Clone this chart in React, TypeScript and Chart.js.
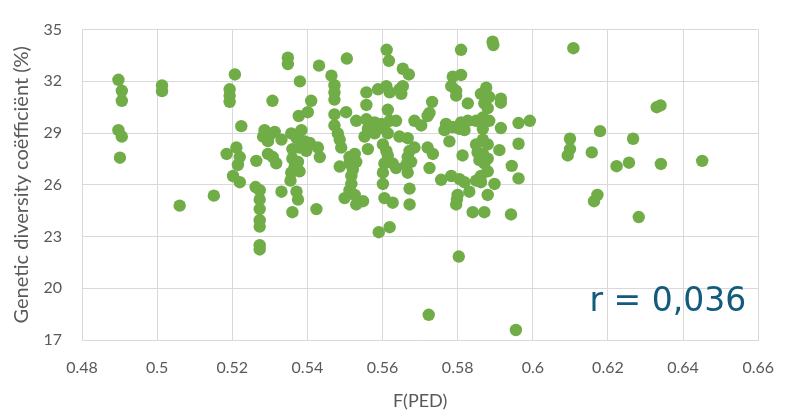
import { useEffect, useRef } from "react";
import { Chart, registerables } from "chart.js";

Chart.register(...registerables);

const fPED = [
  0.4897, 0.4906, 0.4906, 0.4897, 0.4906, 0.4901, 0.5013, 0.5013, 0.506, 0.5151,
  0.5348, 0.5348, 0.5207, 0.5193, 0.5193, 0.5193, 0.538, 0.5431, 0.5505, 0.5464,
  0.5472, 0.5472, 0.5472, 0.5307, 0.541, 0.5401, 0.5377, 0.5472, 0.5503, 0.553,
  0.5224, 0.5472, 0.5481, 0.5486, 0.549, 0.5286, 0.53, 0.5313, 0.5282, 0.5295,
  0.5331, 0.5357, 0.5384, 0.5371, 0.5393, 0.5406, 0.536, 0.5379, 0.5397, 0.5428,
  0.5433, 0.536, 0.5366, 0.5357, 0.5355, 0.5375, 0.5379, 0.5185, 0.5211, 0.522,
  0.5215, 0.5264, 0.5295, 0.5308, 0.5317, 0.5202, 0.522, 0.5262, 0.5273, 0.5331,
  0.5371, 0.5375, 0.5512, 0.5521, 0.5517, 0.5517, 0.5512, 0.5499, 0.5526, 0.5486,
  0.5273, 0.5273, 0.5273, 0.5273, 0.5273, 0.5273, 0.536, 0.5424, 0.553, 0.5611,
  0.5617, 0.5654, 0.567, 0.5809, 0.5557, 0.5588, 0.561, 0.5619, 0.5645, 0.5654,
  0.565, 0.5557, 0.5614, 0.5732, 0.5725, 0.572, 0.5787, 0.5809, 0.5783, 0.5796,
  0.5796, 0.5827, 0.5862, 0.5871, 0.5557, 0.5579, 0.5597, 0.5619, 0.5636, 0.5561,
  0.5583, 0.5605, 0.5552, 0.5579, 0.5614, 0.5685, 0.5703, 0.5769, 0.5765, 0.5787,
  0.5809, 0.5827, 0.5849, 0.5867, 0.5805, 0.5818, 0.5778, 0.5645, 0.5667, 0.5561,
  0.5601, 0.561, 0.5614, 0.5605, 0.5601, 0.5601, 0.5627, 0.5636, 0.5672, 0.5685,
  0.5667, 0.5676, 0.5663, 0.5667, 0.572, 0.5734, 0.5725, 0.5526, 0.5512, 0.5521,
  0.553, 0.5672, 0.5672, 0.5756, 0.5783, 0.5805, 0.5818, 0.5813, 0.5849, 0.5853,
  0.5858, 0.5849, 0.5862, 0.5831, 0.58, 0.5796, 0.5548, 0.5605, 0.5627, 0.5619,
  0.559, 0.5798, 0.584, 0.5871, 0.588, 0.5803, 0.5723, 0.5893, 0.5895, 0.6108,
  0.5876, 0.5884, 0.5915, 0.5915, 0.588, 0.5867, 0.5884, 0.5915, 0.5962, 0.5992,
  0.5867, 0.5867, 0.588, 0.5911, 0.5962, 0.5867, 0.588, 0.5871, 0.588, 0.5862,
  0.5898, 0.5944, 0.5962, 0.6099, 0.6099, 0.6093, 0.6179, 0.6157, 0.6223, 0.6172,
  0.6163, 0.5942, 0.5955, 0.633, 0.634, 0.6267, 0.6256, 0.6341, 0.6451, 0.6282,
];

const geneticDiversity = [
  32.09, 31.45, 30.87, 29.17, 28.8, 27.57, 31.76, 31.43, 24.79, 25.37,
  33.37, 33.0, 32.4, 31.54, 31.17, 30.81, 32.0, 32.91, 33.32, 32.33,
  31.78, 31.36, 30.94, 30.87, 30.87, 30.21, 29.99, 30.08, 30.21, 29.71,
  29.4, 29.44, 28.98, 28.62, 28.16, 29.17, 28.89, 29.07, 28.8, 28.53,
  28.62, 28.98, 29.17, 28.71, 28.52, 28.43, 28.07, 28.16, 27.97, 28.16,
  27.61, 27.52, 27.06, 26.7, 26.24, 27.33, 26.78, 27.79, 28.16, 27.61,
  27.15, 27.39, 27.79, 27.61, 27.25, 26.51, 26.15, 25.87, 25.69, 25.6,
  25.6, 25.14, 27.61, 27.06, 26.51, 26.05, 25.69, 25.23, 25.41, 27.06,
  25.14, 24.59, 23.95, 23.58, 22.5, 22.25, 24.41, 24.59, 24.86, 33.83,
  33.19, 32.73, 32.4, 33.83, 31.36, 31.54, 31.72, 31.36, 31.54, 31.72,
  31.27, 30.63, 30.35, 30.81, 30.17, 29.99, 32.27, 32.37, 31.72, 31.45,
  31.17, 30.72, 31.27, 30.72, 29.8, 29.62, 29.53, 29.71, 29.71, 29.25,
  29.25, 29.25, 28.8, 28.98, 28.98, 29.71, 29.44, 29.53, 29.17, 29.35,
  29.62, 29.71, 29.71, 29.53, 29.25, 29.17, 28.52, 28.8, 28.7, 28.07,
  28.34, 27.97, 27.7, 27.24, 26.7, 26.05, 27.24, 26.97, 27.97, 28.16,
  27.61, 27.33, 27.15, 26.7, 28.16, 27.79, 26.97, 27.79, 27.24, 26.88,
  27.33, 25.78, 24.86, 26.29, 26.51, 26.33, 26.15, 27.7, 28.34, 27.88,
  27.43, 26.24, 26.15, 25.6, 25.41, 24.86, 25.05, 25.23, 24.96, 23.54,
  23.25, 25.15, 24.41, 24.41, 25.41, 21.84, 18.46, 34.3, 34.1, 33.92,
  31.63, 31.09, 30.99, 30.76, 30.44, 29.9, 29.71, 29.29, 29.58, 29.71,
  29.25, 28.62, 28.34, 28.01, 28.38, 27.79, 27.52, 27.24, 26.78, 26.51,
  26.05, 27.1, 26.37, 28.67, 28.07, 27.7, 29.11, 27.88, 27.08, 25.41,
  25.05, 24.28, 17.58, 30.5, 30.6, 28.67, 27.28, 27.21, 27.39, 24.13,
];

const xTickValues = [0.48, 0.5, 0.52, 0.54, 0.56, 0.58, 0.6, 0.62, 0.64, 0.66];
const yTickValues = [17, 20, 23, 26, 29, 32, 35];
const xAxisTitle = "F(PED)";
const yAxisTitle = "Genetic diversity coëfficiënt (%)";
const correlationLabel = "r = 0,036";

export default function App() {
  const ref = useRef<HTMLCanvasElement>(null);

  useEffect(() => {
    document.body.style.margin = "0";
    const canvas = ref.current;
    if (!canvas) return;

    const rLabelPlugin = {
      id: "rLabel",
      afterDatasetsDraw(chart: any) {
        const { ctx, chartArea } = chart;
        ctx.save();
        ctx.font = "33px 'DejaVu Sans', sans-serif";
        ctx.fillStyle = "#125B7C";
        ctx.textAlign = "right";
        ctx.textBaseline = "middle";
        ctx.fillText(correlationLabel, chartArea.right - 12, chart.scales.y.getPixelForValue(19.2));
        ctx.restore();
      },
    };

    const gridColor = "#D9D9D9";
    const tickFont = { family: "Lato, sans-serif", size: 16 };

    const chart = new Chart(canvas, {
      type: "scatter",
      data: {
        datasets: [
          {
            data: fPED.map((x, i) => ({ x, y: geneticDiversity[i] })),
            backgroundColor: "#70AD47",
            borderColor: "#70AD47",
            borderWidth: 0,
            pointRadius: 6.2,
            pointHoverRadius: 6.2,
          },
        ],
      },
      options: {
        responsive: false,
        animation: false,
        events: [],
        layout: { padding: { top: 12, right: 33, left: 0, bottom: 0 } },
        plugins: { legend: { display: false }, tooltip: { enabled: false } },
        scales: {
          x: {
            type: "linear",
            min: 0.48,
            max: 0.66,
            afterFit: (s: any) => {
              s.height = 76;
            },
            afterBuildTicks: (s: any) => {
              s.ticks = xTickValues.map((v) => ({ value: v }));
            },
            grid: { color: gridColor, lineWidth: 1, drawTicks: false },
            border: { color: gridColor, width: 1 },
            ticks: {
              padding: 18,
              color: "#595959",
              font: tickFont,
              maxRotation: 0,
              autoSkip: false,
              callback: (v: any) => String(Number(Number(v).toFixed(2))),
            },
            title: {
              display: true,
              text: xAxisTitle,
              color: "#595959",
              font: { family: "Lato, sans-serif", size: 18 },
              padding: { top: 0, bottom: 4 },
            },
          },
          y: {
            type: "linear",
            min: 17,
            max: 35,
            afterFit: (s: any) => {
              s.width = 82;
            },
            afterBuildTicks: (s: any) => {
              s.ticks = yTickValues.map((v) => ({ value: v }));
            },
            grid: { color: gridColor, lineWidth: 1, drawTicks: false },
            border: { color: gridColor, width: 1 },
            ticks: {
              padding: 20,
              color: "#595959",
              font: tickFont,
              autoSkip: false,
            },
            title: {
              display: true,
              text: yAxisTitle,
              color: "#595959",
              font: { family: "Lato, sans-serif", size: 20 },
              padding: { top: 10, bottom: 0 },
            },
          },
        },
      },
      plugins: [rLabelPlugin],
    });

    return () => chart.destroy();
  }, []);

  return <canvas ref={ref} width={792} height={416} style={{ display: "block" }} />;
}
